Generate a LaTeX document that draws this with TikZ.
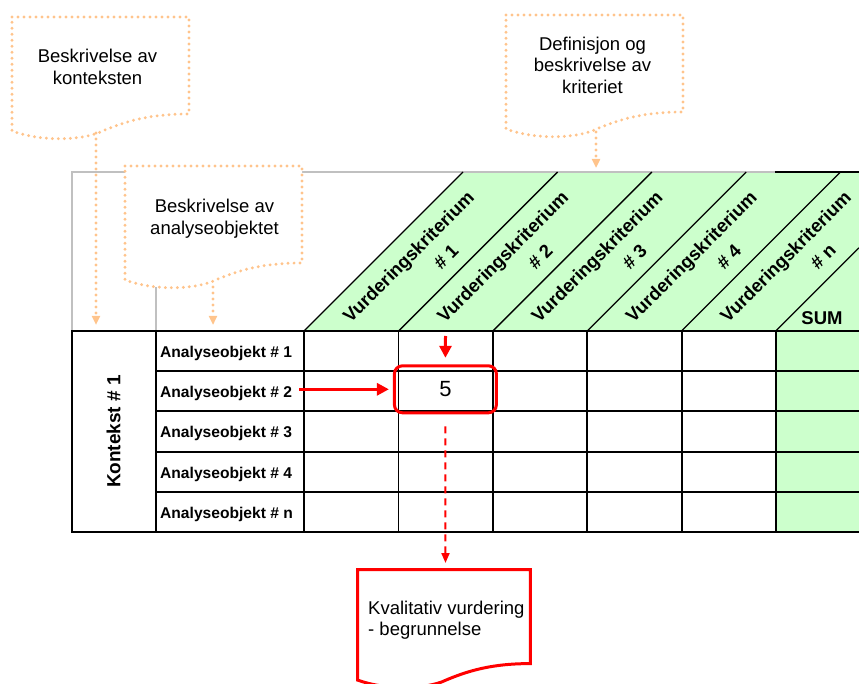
\documentclass[tikz,border=0pt]{standalone}
\usepackage{fontspec}
\setmainfont{Liberation Sans}
\usetikzlibrary{arrows.meta,calc}
\definecolor{hdrgreen}{HTML}{CCFFCC}
\definecolor{peach}{HTML}{FFC48C}
\definecolor{gridgray}{HTML}{C0C0C0}
\definecolor{hlred}{HTML}{FF0000}
\tikzset{
  docshape/.pic={
    \path[pic actions] (0,0) -- (177,0) -- (177,97)
      .. controls (138,97) and (113,104) .. (86,116)
      .. controls (63,124) and (28,124) .. (0,114) -- cycle;
  },
  dotted peach/.style={draw=peach, line width=3.2pt, line cap=round, dash pattern=on 0pt off 6pt},
  dotarrow/.style={dotted peach, -{Triangle[width=8pt,length=9pt]}},
  calltext/.style={inner sep=0pt, align=center, font=\fontsize{18.5}{22}\selectfont},
  hdr/.style={inner sep=0pt, rotate=45, font=\bfseries\fontsize{18.5}{22}\selectfont},
  rowlbl/.style={inner sep=0pt, anchor=base west, font=\bfseries\fontsize{15.6}{18}\selectfont},
  redarrow/.style={draw=hlred, line width=3pt, -{Triangle[width=12pt,length=12pt]}},
  reddash/.style={draw=hlred, line width=2pt, dash pattern=on 7pt off 5pt, -{Triangle[width=8pt,length=10pt]}},
}
\begin{document}
\begin{tikzpicture}[x=1pt,y=-1pt]
\useasboundingbox (0,0) rectangle (859,684);
\clip (0,0) rectangle (859,684);

% header and SUM column background
\fill[hdrgreen] (304,331) -- (463,172) -- (859,172) -- (859,331) -- cycle;
\fill[hdrgreen] (775.8,331) rectangle (859,532);

% light header frame
\draw[gridgray, line width=1.5pt] (72,331) -- (72,172) -- (775,172);
\draw[gridgray, line width=1.5pt] (156,172) -- (156,331);
\draw[line width=1.3pt] (775,172) -- (859,172);

% slanted header dividers
\foreach \x in {304,398.6,492.9,587.2,681.5}
  \draw[line width=1.3pt] (\x,331) -- ++(159,-159);
\draw[line width=1.3pt] (775.8,331) -- ++(83.2,-83.2);

% table grid
\foreach \y/\w in {371/1.1,411/1.2,452/1.5,492/1.2}
  \draw[line width=\w pt] (156,\y) -- (859,\y);
\foreach \x/\w in {72/2,156/1.4,304/1.8,398.6/1.3,492.9/2,587.2/2,681.5/2,775.8/1.5}
  \draw[line width=\w pt] (\x,331) -- (\x,532);
\draw[line width=2pt] (71,331) -- (859,331);
\draw[line width=2pt] (71,532) -- (859,532);

% header labels
\foreach \i/\k in {0/1,1/2,2/3,3/4,4/n}{
  \node[hdr] (crit\k-a) at ({409.5+94.3*\i},258) {Vurderingskriterium};
  \node[hdr] (crit\k-b) at ({446+94.3*\i},256.5) {\# \k};
}
\node[inner sep=0pt, font=\bfseries\fontsize{18.5}{22}\selectfont] (sum) at (822,318.5) {SUM};

% row labels
\node[inner sep=0pt, rotate=90, font=\bfseries\fontsize{19}{22}\selectfont] (ctx) at (113.5,431.5) {Kontekst \# 1};
\foreach \y/\t in {357/1,397/2,437/3,478/4,518/n}
  \node[rowlbl] (r\t) at (160,\y) {Analyseobjekt \# \t};

% callouts
\pic[dotted peach, fill=white] at (12,17) {docshape};
\node[calltext, anchor=north] (t1) at (97.5,48.5) {Beskrivelse av\\konteksten};
\pic[dotted peach, fill=white] at (125,166) {docshape};
\node[calltext, anchor=north] (t2) at (214.5,198.5) {Beskrivelse av\\analyseobjektet};
\pic[dotted peach, fill=white] at (506,15) {docshape};
\node[calltext, anchor=north, font=\fontsize{18.5}{21.5}\selectfont] (t3) at (592.5,36.5) {Definisjon og\\beskrivelse av\\kriteriet};

\coordinate (c1b) at (96,133);
\coordinate (c1t) at (96,325);
\coordinate (c2b) at (213,287);
\coordinate (c2t) at (213,325);
\coordinate (c3b) at (596,132);
\coordinate (c3t) at (596,168);
\draw[dotarrow] (c1b) -- (c1t);
\draw[dotarrow] (c2b) -- (c2t);
\draw[dotarrow] (c3b) -- (c3t);

% highlighted value and its links
\node[draw=hlred, line width=3pt, rounded corners=8pt, minimum width=102pt, minimum height=47pt, inner sep=0pt,
      font=\fontsize{22}{26}\selectfont] (val) at (445.4,389.3) {5};
\coordinate (dtop) at (445.5,336);
\draw[redarrow, shorten >=6.5pt] (dtop) -- (val.north);
\draw[redarrow, shorten <=7pt, shorten >=4pt] (r2.east |- val.west) -- (val.west);

\pic[draw=hlred, fill=white, line width=3pt, xscale=0.977, yscale=0.97] at (357.5,569.5) {docshape};
\coordinate (kvtop) at (445.5,569.5);
\draw[reddash, shorten <=12pt, shorten >=6.5pt] (val.south) -- (kvtop);
\node[inner sep=0pt, anchor=north west, align=left, font=\fontsize{18.5}{21.5}\selectfont] (t4) at (368,600.5) {Kvalitativ vurdering\\- begrunnelse};
\end{tikzpicture}
\end{document}
